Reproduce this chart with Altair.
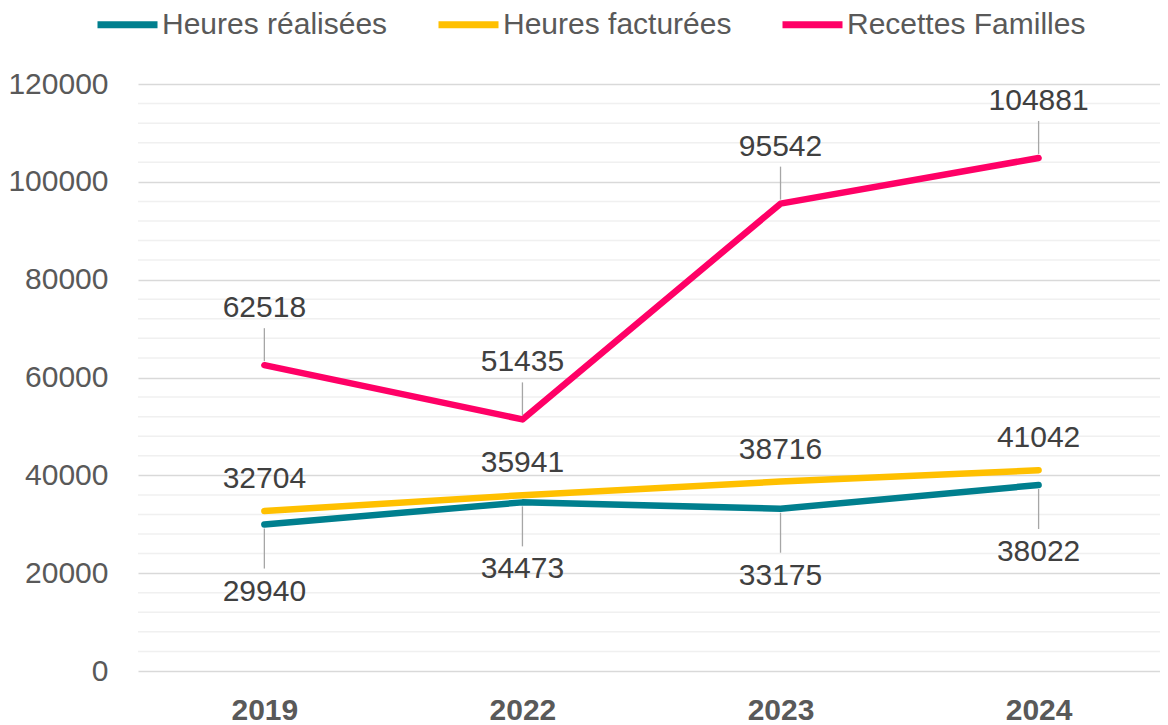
import altair as alt
import pandas as pd

years = ["2019", "2022", "2023", "2024"]
series_names = ["Heures réalisées", "Heures facturées", "Recettes Familles"]
heures_realisees = [29940, 34473, 33175, 38022]
heures_facturees = [32704, 35941, 38716, 41042]
recettes_familles = [62518, 51435, 95542, 104881]
y_major_ticks = [0, 20000, 40000, 60000, 80000, 100000, 120000]
y_minor_ticks = [v for v in range(4000, 120000, 4000) if v % 20000]
colors = ["#007F8E", "#FFC000", "#FF0066"]

rows = []
for name, vals in zip(series_names, [heures_realisees, heures_facturees, recettes_familles]):
    for yr, v in zip(years, vals):
        rows.append({"Année": yr, "Série": name, "Valeur": v})
df = pd.DataFrame(rows)

FONT = "Liberation Sans"
xscale = alt.Scale(type="point", padding=0.48, align=0.51)
yscale = alt.Scale(domain=[0, 120000], nice=False, zero=True)

xaxis = alt.Axis(title=None, labelAngle=0, labelFontSize=30, labelFontWeight="bold",
                 labelColor="#595959", labelFont=FONT, labelPadding=24,
                 domain=False, ticks=False, grid=False)
yaxis = alt.Axis(title=None, values=y_major_ticks, labelFontSize=30, labelColor="#595959",
                 labelFont=FONT, labelPadding=30, domain=False, ticks=False,
                 grid=True, gridColor="#D9D9D9", gridWidth=1.5, format="d")

X = alt.X("Année:N", sort=years, scale=xscale, axis=xaxis)
Y = alt.Y("Valeur:Q", scale=yscale, axis=yaxis)

base = alt.Chart(df)

lines = base.mark_line(strokeWidth=6.5, strokeCap="round", strokeJoin="round").encode(
    x=X,
    y=Y,
    color=alt.Color(
        "Série:N",
        scale=alt.Scale(domain=series_names, range=colors),
        legend=alt.Legend(
            title=None, orient="none", direction="horizontal",
            legendX=-44, legendY=-93,
            symbolType="stroke", symbolSize=3600, symbolStrokeWidth=7,
            labelFontSize=30, labelColor="#595959", labelFont=FONT,
            labelLimit=500, labelOffset=1, columnPadding=36, padding=0,
        ),
    ),
)

minor = alt.Chart(pd.DataFrame({"v": y_minor_ticks})).mark_rule(
    color="#F0F0F0", strokeWidth=1.5
).encode(y=alt.Y("v:Q", scale=yscale, axis=yaxis))

layers = [minor, lines]
label_specs = [
    (series_names[0], 67, (4, 44)),
    (series_names[1], -32, None),
    (series_names[2], -57, (-4, -37)),
]
for name, dy, lead in label_specs:
    sub = base.transform_filter(alt.datum["Série"] == name)
    if lead is not None:
        layers.append(
            sub.mark_rule(color="#A6A6A6", strokeWidth=1.3, yOffset=lead[0], y2Offset=lead[1]).encode(
                x=X, y=Y, y2=alt.Y2("Valeur")
            )
        )
    layers.append(
        sub.mark_text(dy=dy, fontSize=30, font=FONT, color="#404040").encode(
            x=X, y=Y, text=alt.Text("Valeur:Q", format="d")
        )
    )

chart = alt.layer(*layers).properties(
    width=1022, height=587,
    autosize=alt.AutoSizeParams(type="none"),
    padding={"left": 130, "top": 76, "right": 0, "bottom": 56},
).configure(font=FONT).configure_view(stroke=None)

chart.save("out.html", embed_options={"renderer": "svg", "actions": False})
